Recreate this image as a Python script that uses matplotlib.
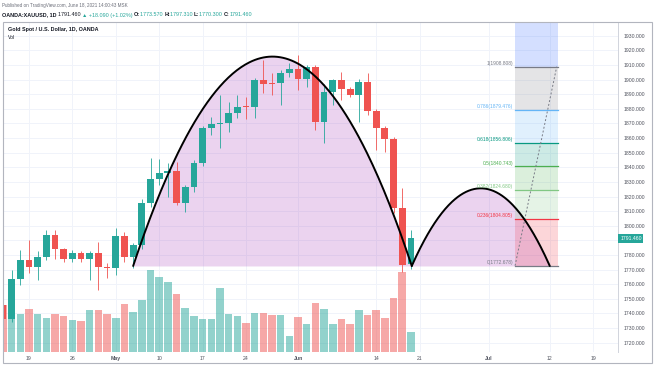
import numpy as np
import matplotlib
matplotlib.use("Agg")
import matplotlib.pyplot as plt
from matplotlib.transforms import blended_transform_factory
from matplotlib.patches import Rectangle

plt.rcParams['font.family'] = ['Liberation Sans', 'DejaVu Sans']

# daily bars, index 0 = Mon 19 Apr 2021 (trading days)
bar_idx = list(range(-3, 45))
opens = [1745.8, 1736.0, 1763.3, 1776.5, 1772.0, 1778.8, 1793.6, 1783.8, 1777.0, 1781.6,
         1777.0, 1781.6, 1772.0, 1771.0, 1793.0, 1778.8, 1786.8, 1815.3, 1831.8, 1835.9,
         1837.7, 1815.3, 1826.7, 1843.2, 1867.1, 1869.6, 1870.0, 1877.4, 1881.5, 1881.0,
         1899.7, 1897.9, 1897.4, 1904.3, 1907.0, 1900.2, 1908.8, 1871.2, 1891.7, 1899.7,
         1893.3, 1889.4, 1898.6, 1878.7, 1866.6, 1859.3, 1811.9, 1773.6]
highs = [1747.0, 1769.7, 1783.4, 1790.2, 1783.0, 1797.0, 1797.0, 1785.0, 1783.4, 1783.0,
         1783.0, 1789.0, 1774.3, 1798.2, 1795.9, 1788.0, 1818.0, 1846.1, 1846.0, 1843.0,
         1843.8, 1828.0, 1845.0, 1868.0, 1874.6, 1889.4, 1884.9, 1889.4, 1888.3, 1901.0,
         1913.4, 1904.3, 1906.5, 1911.0, 1916.8, 1910.0, 1910.0, 1897.0, 1900.5, 1905.4,
         1895.0, 1900.5, 1904.3, 1880.0, 1868.0, 1861.0, 1825.6, 1797.0]
lows = [1734.0, 1734.5, 1759.4, 1767.4, 1762.9, 1776.5, 1777.0, 1775.4, 1775.4, 1775.4,
        1762.9, 1756.0, 1764.0, 1766.3, 1775.4, 1770.8, 1784.0, 1813.0, 1828.0, 1820.0,
        1814.0, 1809.6, 1823.0, 1841.0, 1862.0, 1853.0, 1864.3, 1873.5, 1872.8, 1873.5,
        1890.6, 1889.4, 1882.6, 1902.0, 1892.9, 1895.0, 1865.5, 1856.4, 1882.6, 1886.0,
        1888.3, 1871.2, 1875.8, 1851.8, 1850.7, 1809.0, 1768.6, 1770.3]
closes = [1736.0, 1763.3, 1776.5, 1772.0, 1778.8, 1793.6, 1783.8, 1777.0, 1781.6, 1777.0,
          1781.6, 1772.0, 1771.0, 1793.0, 1778.8, 1786.8, 1815.3, 1831.8, 1835.9, 1837.7,
          1815.3, 1826.7, 1843.2, 1867.1, 1869.6, 1870.2, 1877.4, 1881.5, 1881.0, 1899.7,
          1897.0, 1897.0, 1904.3, 1907.0, 1900.2, 1908.8, 1871.2, 1891.7, 1899.7, 1893.3,
          1889.4, 1898.6, 1878.7, 1866.6, 1859.3, 1811.9, 1773.1, 1791.46]
volumes = [140, 100, 115, 130, 115, 103, 115, 108, 97, 92,
           127, 127, 113, 103, 145, 120, 155, 247, 225, 210,
           173, 133, 107, 99, 99, 192, 113, 108, 88, 118,
           118, 112, 110, 48, 104, 83, 148, 130, 85, 100,
           84, 127, 110, 125, 103, 162, 240, 60]

# time axis labels
tick_pos = [0, 5, 10, 15, 20, 25, 31, 40, 45, 53, 60, 65]
tick_lab = ["19", "26", "May", "10", "17", "24", "Jun", "14", "21", "Jul", "12", "19"]

# arc drawings: (start, end, base price, peak price)
arcs = [(12.0, 44.1, 1772.5, 1915.7), (44.1, 60.0, 1772.5, 1825.6)]

# fib retracement
fib_ratio = [0, 0.236, 0.382, 0.5, 0.618, 0.786, 1, 1.618]
fib_price = [1772.678, 1804.805, 1824.680, 1840.743, 1856.806, 1879.476, 1908.808, 1992.939]
fib_color = ["#787b86", "#f23645", "#81c784", "#4caf50", "#089981", "#64b5f6", "#787b86", "#2962ff"]
fib_x0, fib_x1 = 56.0, 61.0

last_price = 1791.46

UP, DOWN = "#26a69a", "#ef5350"
W, H = 654, 366
fig = plt.figure(figsize=(W / 100, H / 100), dpi=100)
ax = fig.add_axes([4 / W, 1 - 352 / H, 614 / W, 330 / H])
ax.set_xlim(-2.88, 67.86)
ax.set_ylim(1713.65, 1939.37)

# grid
yt = np.arange(1720, 1931, 10)
for v in yt:
    ax.axhline(v, color="#f0f3fa", lw=0.7, zorder=0)
for p in tick_pos:
    ax.axvline(p, color="#f0f3fa", lw=0.7, zorder=0)

# volume at the bottom of the pane
vtr = blended_transform_factory(ax.transData, ax.transAxes)
for i, o, c, v in zip(bar_idx, opens, closes, volumes):
    col = UP if c >= o else DOWN
    ax.bar(i, v / 990, width=0.86, bottom=0, color=col, alpha=0.5,
           transform=vtr, zorder=1, linewidth=0)

# arcs
for a, b, base, peak in arcs:
    xs = np.linspace(a, b, 200)
    m, hw = (a + b) / 2, (b - a) / 2
    ys = base + (peak - base) * (1 - ((xs - m) / hw) ** 2)
    ax.fill_between(xs, base, ys, color="#9c27b0", alpha=0.2, lw=0, zorder=1.5)
    ax.plot(xs, ys, color="black", lw=1.4, zorder=4, solid_capstyle="round")

# fib zones
for k in range(1, len(fib_price)):
    ax.fill_between([fib_x0, fib_x1], fib_price[k - 1], fib_price[k],
                    color=fib_color[k], alpha=0.2, lw=0, zorder=1.6)
for r, p, c in zip(fib_ratio[:-1], fib_price[:-1], fib_color[:-1]):
    ax.plot([fib_x0, fib_x1], [p, p], color=c, lw=0.9, zorder=1.7)
    ax.text(fib_x0 - 0.2, p + 0.3, "%g(%.3f)" % (r, p), color=c, fontsize=3.5,
            ha="right", va="bottom", zorder=5)
ax.plot([fib_x0, fib_x1 - 0.2], [fib_price[0], fib_price[6]], color="#787b86",
        lw=0.7, ls=(0, (2, 2)), zorder=1.8)

# candles
for i, o, h, l, c in zip(bar_idx, opens, highs, lows, closes):
    col = UP if c >= o else DOWN
    ax.vlines(i, l, h, color=col, lw=0.6, zorder=2)
    ax.bar(i, max(abs(c - o), 0.6), width=0.78, bottom=min(o, c), color=col,
           linewidth=0, zorder=2.5)

# axes styling
ax.yaxis.tick_right()
ax.set_yticks([v for v in yt if v != 1790])
ax.set_yticklabels(["%.3f" % v for v in yt if v != 1790])
ax.set_xticks(tick_pos)
ax.set_xticklabels(tick_lab)
ax.tick_params(length=0, labelsize=3.7, labelcolor="#50535e")
ax.tick_params(axis="y", pad=4.3)
ax.tick_params(axis="x", pad=2.6)
for t in ax.get_xticklabels():
    if t.get_text() in ("May", "Jun", "Jul"):
        t.set_fontweight("bold")
for s in ("top", "left", "bottom"):
    ax.spines[s].set_visible(False)
ax.spines["right"].set_color("#d1d4dc")
ax.spines["right"].set_linewidth(0.7)

# last price tag
ytr = blended_transform_factory(ax.transAxes, ax.transData)
ax.text(1.0035, last_price, "%.3f" % last_price, transform=ytr, fontsize=3.7,
        color="white", ha="left", va="center", clip_on=False,
        bbox=dict(boxstyle="square,pad=0.35", fc=UP, ec="none"))

# outer frame
fig.patches.append(Rectangle((2.5 / W, 1 - 363 / H), 649.5 / W, 341 / H,
                             transform=fig.transFigure, fill=False,
                             ec="#b2b5be", lw=0.8))

# header
fig.text(2 / W, 1 - 6 / H, "Published on TradingView.com, June 18, 2021 14:00:43 MSK",
         fontsize=3.3, color="#6a6d78", va="center")

r = fig.canvas.get_renderer()
x = 2 / W
parts = [("OANDA:XAUUSD, 1D ", "#131722", "bold"), ("1791.460 ", "#131722", "normal"),
         ("▲ +18.090 (+1.02%) ", UP, "normal"), ("O:", "#131722", "bold"),
         ("1773.570 ", UP, "normal"), ("H:", "#131722", "bold"), ("1797.310 ", UP, "normal"),
         ("L:", "#131722", "bold"), ("1770.300 ", UP, "normal"), ("C:", "#131722", "bold"),
         ("1791.460", UP, "normal")]
for s, c, w in parts:
    t = fig.text(x, 1 - 15 / H, s, fontsize=3.9, color=c, fontweight=w, va="center")
    bb = t.get_window_extent(r)
    x = bb.x1 / (fig.dpi * fig.get_figwidth())

fig.text(8 / W, 1 - 30 / H, "Gold Spot / U.S. Dollar, 1D, OANDA", fontsize=3.9,
         fontweight="bold", color="#131722", va="center")
fig.text(8 / W, 1 - 37.5 / H, "Vol", fontsize=3.6, color="#131722", va="center")

fig.savefig("out.png", dpi=100)
